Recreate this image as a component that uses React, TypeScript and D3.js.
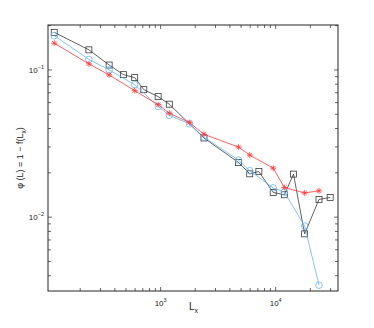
import { useEffect, useRef } from "react";
import * as d3 from "d3";

// L_x = 119 * n
const xBlack = [119, 238, 357, 476, 595, 714, 952, 1190, 2380, 4760, 5950, 7140, 9520, 11900, 14280, 17850, 23800, 29750];
const yBlack = [0.18, 0.137, 0.108, 0.0929, 0.0887, 0.0735, 0.0659, 0.0585, 0.0345, 0.0235, 0.0197, 0.0204, 0.0147, 0.0142, 0.0196, 0.0077, 0.0132, 0.0136];

const xBlue = [119, 238, 357, 595, 952, 1190, 1785, 2380, 4760, 5950, 9520, 11900, 17850, 23800];
const yBlue = [0.171, 0.118, 0.1, 0.0795, 0.0565, 0.0492, 0.043, 0.0349, 0.0244, 0.0207, 0.0158, 0.0148, 0.0087, 0.00345];

const xRed = [119, 238, 357, 595, 952, 1190, 1785, 2380, 4760, 5950, 9520, 11900, 17850, 23800];
const yRed = [0.152, 0.11, 0.0925, 0.0723, 0.0581, 0.0508, 0.0439, 0.0366, 0.0299, 0.0264, 0.0215, 0.0159, 0.0146, 0.0151];

const xDomain = [105, 34800];
const yDomain = [0.00315, 0.202];

export default function App() {
    const svgRef = useRef<SVGSVGElement>(null);
    const width = 374;
    const height = 328;
    const margin = { top: 25, right: 36, bottom: 37, left: 48 };

    useEffect(() => {
        const svg = d3.select(svgRef.current);
        svg.selectAll("*").remove();
        const iw = width - margin.left - margin.right;
        const ih = height - margin.top - margin.bottom;

        const x = d3.scaleLog().domain(xDomain).range([0, iw]);
        const y = d3.scaleLog().domain(yDomain).range([ih, 0]);

        svg.append("rect").attr("width", width).attr("height", height).attr("fill", "#fff");
        const g = svg.append("g").attr("transform", `translate(${margin.left},${margin.top})`);

        const font = "Helvetica, Arial, 'Liberation Sans', sans-serif";
        const axisColor = "#262626";

        // ticks on all four sides, pointing inward
        const isMajor = (v: number) => Math.abs(Math.log10(v) - Math.round(Math.log10(v))) < 1e-6;
        const tl = 3;
        const tickG = g.append("g").attr("stroke", axisColor).attr("stroke-width", 0.7);
        x.ticks().forEach(v => {
            const px = x(v);
            const len = isMajor(v) ? tl + 1 : tl;
            tickG.append("line").attr("x1", px).attr("x2", px).attr("y1", ih).attr("y2", ih - len);
            tickG.append("line").attr("x1", px).attr("x2", px).attr("y1", 0).attr("y2", len);
        });
        y.ticks().forEach(v => {
            const py = y(v);
            const len = isMajor(v) ? tl + 1 : tl;
            tickG.append("line").attr("x1", 0).attr("x2", len).attr("y1", py).attr("y2", py);
            tickG.append("line").attr("x1", iw).attr("x2", iw - len).attr("y1", py).attr("y2", py);
        });

        // box
        g.append("rect").attr("width", iw).attr("height", ih)
            .attr("fill", "none").attr("stroke", axisColor).attr("stroke-width", 1);

        // tick labels (powers of ten)
        x.ticks().filter(isMajor).forEach(v => {
            const t = g.append("text").attr("x", x(v)).attr("y", ih + 15)
                .attr("text-anchor", "middle").attr("font-family", font).attr("font-size", 8).attr("fill", "#222");
            t.append("tspan").text("10");
            t.append("tspan").attr("dy", -4).attr("font-size", 5.5).text(String(Math.round(Math.log10(v))));
        });
        y.ticks().filter(isMajor).forEach(v => {
            const t = g.append("text").attr("x", -4).attr("y", y(v) + 3)
                .attr("text-anchor", "end").attr("font-family", font).attr("font-size", 8).attr("fill", "#222");
            t.append("tspan").text("10");
            t.append("tspan").attr("dy", -4).attr("font-size", 5.5).text("\u2212" + Math.abs(Math.round(Math.log10(v))));
        });

        // axis labels
        const xl = svg.append("text").attr("x", 189).attr("y", 310)
            .attr("font-family", font).attr("font-size", 10).attr("fill", "#222");
        xl.append("tspan").text("L");
        xl.append("tspan").attr("dy", 3).attr("font-size", 7).text("x");

        const yl = svg.append("text")
            .attr("transform", `translate(23,${margin.top + ih / 2}) rotate(-90)`)
            .attr("text-anchor", "middle").attr("font-family", font).attr("font-size", 9).attr("fill", "#222");
        yl.append("tspan").text("\u03c6 (L) = 1 \u2212 f(L");
        yl.append("tspan").attr("dy", 3).attr("font-size", 6.5).text("x");
        yl.append("tspan").attr("dy", -3).text(")");

        const line = d3.line<[number, number]>().x(d => x(d[0])).y(d => y(d[1]));
        const series = [
            { xs: xBlack, ys: yBlack, color: "#3a3a3a", marker: "square" },
            { xs: xBlue, ys: yBlue, color: "#66b5f5", marker: "circle" },
            { xs: xRed, ys: yRed, color: "#ff3838", marker: "star" },
        ];

        series.forEach(s => {
            const pts = s.xs.map((v, i) => [v, s.ys[i]] as [number, number]);
            g.append("path").datum(pts).attr("d", line)
                .attr("fill", "none").attr("stroke", s.color).attr("stroke-width", 0.8);
            const mg = g.append("g").attr("stroke", s.color).attr("fill", "none").attr("stroke-width", 0.8);
            pts.forEach(p => {
                const px = x(p[0]);
                const py = y(p[1]);
                if (s.marker === "square") {
                    mg.append("rect").attr("x", px - 3).attr("y", py - 3).attr("width", 6).attr("height", 6);
                } else if (s.marker === "circle") {
                    mg.append("circle").attr("cx", px).attr("cy", py).attr("r", 3.3);
                } else {
                    const r = 3;
                    const d = r * 0.707;
                    mg.append("path").attr("d",
                        `M${px - r},${py}L${px + r},${py}M${px},${py - r}L${px},${py + r}` +
                        `M${px - d},${py - d}L${px + d},${py + d}M${px - d},${py + d}L${px + d},${py - d}`);
                }
            });
        });
    }, []);

    return (
        <svg ref={svgRef} width={width} height={height}
            style={{ position: "absolute", left: 0, top: 0 }} />
    );
}
